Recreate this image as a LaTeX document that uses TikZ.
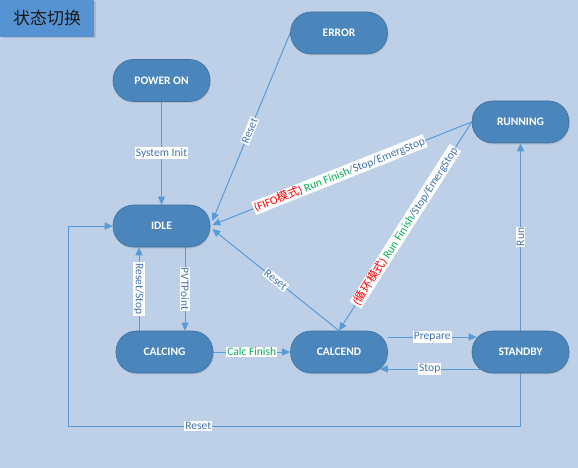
\documentclass[tikz,border=0pt]{standalone}
\usepackage{fontspec}
\setmainfont{Carlito}
\newfontfamily\cjk{Noto Sans CJK SC}
\usetikzlibrary{arrows.meta,calc,shadows}
\definecolor{bgc}{RGB}{189,208,232}
\definecolor{titlec}{RGB}{86,147,211}
\definecolor{nodec}{RGB}{74,133,188}
\definecolor{nodeb}{RGB}{65,113,156}
\definecolor{linec}{RGB}{91,155,213}
\definecolor{txtc}{RGB}{68,114,178}
\definecolor{redc}{RGB}{255,0,0}
\definecolor{greenc}{RGB}{0,176,80}
\pgfdeclarelayer{bglayer}
\pgfdeclarelayer{edgelayer}
\pgfsetlayers{bglayer,edgelayer,main}
\tikzset{
  state/.style={draw=nodeb, line width=0.6pt, fill=nodec, rounded corners=20.5pt,
    minimum width=97pt, minimum height=42pt, text=white,
    font=\fontsize{11.5}{13}\selectfont\bfseries,
    drop shadow={opacity=0.2, shadow xshift=1pt, shadow yshift=-1.5pt}},
  edge/.style={draw=linec, line width=1pt, -{Triangle[length=8pt,width=7pt]}},
  lbl/.style={fill=white, text=txtc, inner sep=1pt, font=\fontsize{11.5}{13}\selectfont},
}
\begin{document}
\begin{tikzpicture}[x=1pt,y=-1pt]
\begin{pgfonlayer}{bglayer}
\fill[bgc] (0,0) rectangle (578,468);
\end{pgfonlayer}
\useasboundingbox (0,0) rectangle (578,468);
% title
\node[fill=titlec, minimum width=94pt, minimum height=37pt, inner sep=0pt,
  drop shadow={opacity=0.3, shadow xshift=1.5pt, shadow yshift=-1.5pt},
  font=\cjk\fontsize{17}{19}\selectfont, text=black!90] (title) at (47,18.5) {状态切换};
% states
\node[state] (power)   at (161.5,80.5) {POWER ON};
\node[state] (error)   at (339,33)     {ERROR};
\node[state] (running) at (520.5,122)  {RUNNING};
\node[state] (idle)    at (161.5,226)  {IDLE};
\node[state] (calcing) at (164.5,352)  {CALCING};
\node[state] (calcend) at (339,352)    {CALCEND};
\node[state] (standby) at (520.5,352)  {STANDBY};
\coordinate (lb) at (68,426);
\begin{pgfonlayer}{edgelayer}
\draw[edge] (power) -- node[lbl]{System Init} (idle);
\draw[edge] (error.west) -- node[lbl,sloped,pos=0.52]{Reset} ($(idle.east)+(2,-5)$);
\draw[edge] (running.west) -- node[lbl,sloped,pos=0.51]{\textcolor{redc}{(FIFO{\cjk 模式})} \textcolor{greenc}{Run Finish}/Stop/EmergStop} ($(idle.east)+(2,-1)$);
\draw[edge] (running.west) -- node[lbl,sloped,pos=0.5]{\textcolor{redc}{({\cjk 循环模式})} \textcolor{greenc}{Run Finish}/Stop/EmergStop} (calcend.north);
\draw[edge] (calcend.north) -- node[lbl,sloped,pos=0.5]{Reset} ($(idle.east)+(2,3)$);
\draw[edge] ([xshift=23.5pt]idle.south) -- node[lbl,rotate=-90]{PVTPoint} ([xshift=23.5pt]idle.south |- calcing.north);
\draw[edge] ([xshift=-22.5pt]idle.south |- calcing.north) -- node[lbl,rotate=-90]{Reset/Stop} ([xshift=-22.5pt]idle.south);
\draw[edge] (calcing) -- node[lbl,text=greenc]{Calc Finish} (calcend);
\draw[edge] ([yshift=15pt]calcend.east) -- node[lbl]{Prepare} ([yshift=15pt,xshift=5pt]standby.west);
\draw[edge] ([yshift=-17pt,xshift=8pt]standby.west) -- node[lbl]{Stop} ([yshift=-17pt,xshift=-8pt]calcend.east);
\draw[edge] (standby) -- node[lbl,rotate=90]{Run} (running);
\draw[edge] (standby.south) |- node[lbl,pos=0.856]{Reset} (lb) |- (idle.west);
\end{pgfonlayer}
\end{tikzpicture}
\end{document}
